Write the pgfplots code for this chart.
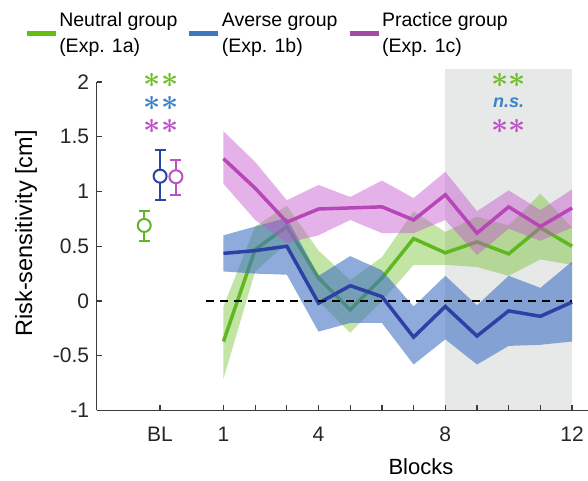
\documentclass[border=0pt]{standalone}
\usepackage{pgfplots}
\pgfplotsset{compat=1.18}
\usepackage{fontspec}
\setmainfont{Liberation Sans}
\definecolor{axgray}{RGB}{60,60,60}
\definecolor{shade}{RGB}{231,232,232}
\definecolor{gLine}{RGB}{96,184,32}
\definecolor{gBand}{RGB}{110,190,40}
\definecolor{bLine}{RGB}{45,65,165}
\definecolor{bBand}{RGB}{60,110,195}
\definecolor{mLine}{RGB}{185,70,185}
\definecolor{mBand}{RGB}{195,85,205}
\definecolor{legG}{RGB}{100,190,20}
\definecolor{legB}{RGB}{60,120,190}
\definecolor{legM}{RGB}{165,75,165}
\definecolor{starG}{RGB}{110,190,40}
\definecolor{starB}{RGB}{60,130,200}
\definecolor{starM}{RGB}{190,80,200}
\definecolor{blG}{RGB}{100,180,40}
\definecolor{blB}{RGB}{40,70,165}
\definecolor{blM}{RGB}{190,80,195}
\begin{document}
\begin{tikzpicture}
\useasboundingbox (0pt,0pt) rectangle (588pt,481pt);
\begin{axis}[
  at={(96.7pt,70.5pt)}, anchor=south west,
  scale only axis, width=491.2pt, height=328.5pt,
  xmin=-3, xmax=12.5, ymin=-1, ymax=2,
  clip=false, axis on top,
  axis x line*=bottom, axis y line*=left,
  axis line style={line width=1.5pt, draw=axgray},
  every tick/.style={line width=1.2pt, axgray},
  tick align=inside, major tick length=5pt,
  xtick={-1,1,2,...,12}, xticklabels={BL,1,,,4,,,,8,,,,12},
  ytick={-1,-0.5,0,0.5,1,1.5,2},
  yticklabels={-1,-0.5,0,0.5,1,1.5,2},
  tick label style={font=\fontsize{21}{21}\selectfont, text=black!85},
  xticklabel style={yshift=-13pt},
  yticklabel style={xshift=-4pt},
  xlabel={Blocks},
  xlabel style={at={(axis description cs:0.660,-0.172)}, anchor=center, font=\fontsize{22}{22}\selectfont},
  ylabel={Risk-sensitivity [cm]},
  ylabel style={at={(axis description cs:-0.144,0.539)}, anchor=center, font=\fontsize{23.5}{23.5}\selectfont},
  legend columns=3,
  legend cell align=left,
  legend style={at={(axis description cs:-0.154,1.222)}, anchor=north west, draw=none, fill=none,
    font=\fontsize{19.5}{26}\selectfont,
    /tikz/every even column/.append style={column sep=8.5pt},
    nodes={align=left, inner sep=1pt}},
  legend image code/.code={\draw[#1] (0pt,0pt) -- (29pt,0pt);},
]
% shaded region
\addplot[fill=shade, draw=none, forget plot] coordinates {(8,-1) (12,-1) (12,2.12) (8,2.12)} -- cycle;

% Neutral group (green)
\addplot[fill=gBand, fill opacity=0.42, draw=none, forget plot] coordinates {
 (1,-0.05) (2,0.68) (3,0.87) (4,0.46) (5,0.19) (6,0.40) (7,0.82) (8,0.63) (9,0.77) (10,0.69) (11,0.98) (12,0.67)
 (12,0.33) (11,0.38) (10,0.23) (9,0.31) (8,0.33) (7,0.33) (6,0.00) (5,-0.29) (4,0.00) (3,0.53) (2,0.27) (1,-0.71)} -- cycle;
\addplot[gLine, line width=3.5pt, forget plot] coordinates {
 (1,-0.37) (2,0.47) (3,0.68) (4,0.21) (5,-0.08) (6,0.21) (7,0.57) (8,0.44) (9,0.54) (10,0.43) (11,0.67) (12,0.50)};

% Averse group (blue)
\addplot[fill=bBand, fill opacity=0.58, draw=none, forget plot] coordinates {
 (1,0.60) (2,0.68) (3,0.76) (4,0.23) (5,0.41) (6,0.28) (7,-0.05) (8,0.23) (9,-0.04) (10,0.23) (11,0.12) (12,0.36)
 (12,-0.37) (11,-0.40) (10,-0.41) (9,-0.58) (8,-0.35) (7,-0.58) (6,-0.20) (5,-0.20) (4,-0.28) (3,0.24) (2,0.25) (1,0.27)} -- cycle;
\addplot[bLine, line width=3.5pt, forget plot] coordinates {
 (1,0.435) (2,0.46) (3,0.50) (4,-0.02) (5,0.14) (6,0.04) (7,-0.33) (8,-0.05) (9,-0.32) (10,-0.09) (11,-0.14) (12,-0.01)};

% Practice group (magenta)
\addplot[fill=mBand, fill opacity=0.45, draw=none, forget plot] coordinates {
 (1,1.55) (2,1.27) (3,0.92) (4,1.06) (5,0.95) (6,1.10) (7,0.94) (8,1.18) (9,0.82) (10,1.01) (11,0.83) (12,1.02)
 (12,0.67) (11,0.55) (10,0.66) (9,0.42) (8,0.74) (7,0.62) (6,0.62) (5,0.74) (4,0.60) (3,0.53) (2,0.74) (1,1.07)} -- cycle;
\addplot[mLine, line width=3.5pt, forget plot] coordinates {
 (1,1.30) (2,1.03) (3,0.72) (4,0.84) (5,0.85) (6,0.86) (7,0.74) (8,0.97) (9,0.62) (10,0.86) (11,0.68) (12,0.85)};

% zero line
\addplot[black, line width=1.5pt, dash pattern=on 8pt off 6pt, forget plot] coordinates {(0.45,0) (12,0)};

% baseline markers
\addplot[blG, line width=2pt, only marks, mark=*, mark size=6.5pt, mark options={fill=white, draw=blG, line width=2pt}, forget plot,
  error bars/.cd, y dir=both, y explicit, error bar style={line width=2pt, blG},
  error mark options={rotate=90, mark size=5.5pt, line width=2pt, blG}]
  coordinates {(-1.5,0.69) += (0,0.13) -= (0,0.14)};
\addplot[blB, line width=2pt, only marks, mark=*, mark size=6.5pt, mark options={fill=white, draw=blB, line width=2pt}, forget plot,
  error bars/.cd, y dir=both, y explicit, error bar style={line width=2pt, blB},
  error mark options={rotate=90, mark size=5.5pt, line width=2pt, blB}]
  coordinates {(-1.0,1.14) += (0,0.24) -= (0,0.22)};
\addplot[blM, line width=2pt, only marks, mark=*, mark size=6.5pt, mark options={fill=white, draw=blM, line width=2pt}, forget plot,
  error bars/.cd, y dir=both, y explicit, error bar style={line width=2pt, blM},
  error mark options={rotate=90, mark size=5.5pt, line width=2pt, blM}]
  coordinates {(-0.5,1.135) += (0,0.155) -= (0,0.165)};

% significance labels
\tikzset{star/.style={font=\fontsize{24}{24}\selectfont\boldmath, scale=1.2, transform shape, inner sep=0pt}}
\node[star, text=starG] at (axis cs:-0.97,2.01) {$\ast\ast$};
\node[star, text=starB] at (axis cs:-0.97,1.80) {$\ast\ast$};
\node[star, text=starM] at (axis cs:-0.97,1.59) {$\ast\ast$};
\node[star, text=starG] at (axis cs:10,2.01) {$\ast\ast$};
\node[text=starB, inner sep=0pt, font=\fontsize{18}{18}\selectfont\bfseries\itshape] at (axis cs:10,1.81) {n.s.};
\node[star, text=starM] at (axis cs:10,1.59) {$\ast\ast$};

% legend
\addlegendimage{legG, line width=5pt}
\addlegendentry{Neutral group\\(Exp. 1a)}
\addlegendimage{legB, line width=5pt}
\addlegendentry{Averse group\\(Exp. 1b)}
\addlegendimage{legM, line width=5pt}
\addlegendentry{Practice group\\(Exp. 1c)}
\end{axis}
\end{tikzpicture}
\end{document}
